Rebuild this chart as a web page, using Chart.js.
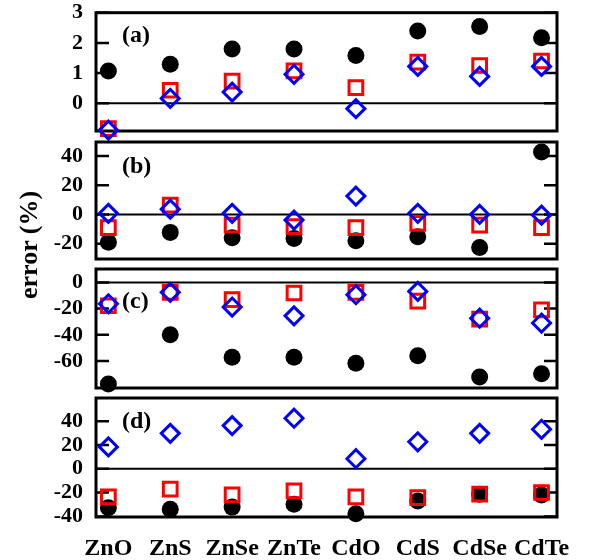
<!DOCTYPE html>
<html lang="en">
<head>
    <meta charset="UTF-8">
    <title>error (%) panels</title>
    <!-- Chart.js from CDN -->
    <script src="https://cdn.jsdelivr.net/npm/chart.js@4.4.0/dist/chart.umd.min.js"></script>
    <style>
        body { margin: 0; background: #fff; }
        #wrap { position: relative; width: 601px; height: 560px; }
        #wrap canvas { position: absolute; left: 0; top: 0; }
        #ylab {
            position: absolute; left: 29px; top: 245px;
            transform: translate(-50%, -50%) rotate(-90deg);
            font: bold 26px "Liberation Serif", serif;
            white-space: nowrap;
        }
    </style>
</head>
<body>
<div id="wrap">
    <canvas id="pa" width="601" height="560"></canvas>
    <canvas id="pb" width="601" height="560"></canvas>
    <canvas id="pc" width="601" height="560"></canvas>
    <canvas id="pd" width="601" height="560"></canvas>
    <div id="ylab">error (%)</div>
</div>

<script>
    // categories (x axis)
    const materials = ['ZnO', 'ZnS', 'ZnSe', 'ZnTe', 'CdO', 'CdS', 'CdSe', 'CdTe'];

    // panel (a)
    const aBlack = [1.07, 1.29, 1.80, 1.80, 1.58, 2.39, 2.54, 2.17];
    const aRed   = [-0.84, 0.43, 0.73, 1.07, 0.52, 1.36, 1.25, 1.40];
    const aBlue  = [-0.89, 0.16, 0.37, 0.96, -0.18, 1.22, 0.89, 1.22];
    const aTicks = [3, 2, 1, 0];

    // panel (b)
    const bBlack = [-19, -12.3, -16, -16.4, -18, -15.3, -22.7, 42.7];
    const bRed   = [-9.1, 6.3, -7.3, -8.4, -9.1, -6.1, -7.3, -9.1];
    const bBlue  = [0.7, 3.6, 0.7, -3.9, 12.5, 0.7, 0, -0.5];
    const bTicks = [40, 20, 0, -20];

    // panel (c)
    const cBlack = [-77.4, -40, -57, -57, -61.6, -56, -72.2, -69.6];
    const cRed   = [-17.8, -7.6, -13.2, -8.1, -7.6, -14.3, -28, -20.9];
    const cBlue  = [-16.3, -7.6, -18.8, -25.5, -9.4, -6.9, -27.3, -31];
    const cTicks = [0, -20, -40, -60];

    // panel (d)
    const dBlack = [-32.7, -34, -32.2, -29.8, -37.8, -27, -21.3, -22];
    const dRed   = [-23.6, -17, -21.9, -18.5, -23.6, -24.2, -21.3, -19.9];
    const dBlue  = [18.4, 29.8, 36.3, 42.5, 8.5, 22.7, 29.8, 33.2];
    const dTicks = [40, 20, 0, -20, -40];

    const tags = ['(a)', '(b)', '(c)', '(d)'];

    const serif = '"Liberation Serif", "Times New Roman", serif';

    // frame, inward ticks on both sides, zero line and panel tag
    const framePlugin = {
        id: 'frame',
        beforeDatasetsDraw(chart, args, opts) {
            const ctx = chart.ctx;
            const a = chart.chartArea;
            const y = chart.scales.y;
            ctx.save();
            ctx.strokeStyle = '#000';
            ctx.lineWidth = 2.5;
            y.ticks.forEach(t => {
                const py = y.getPixelForValue(t.value);
                ctx.beginPath();
                ctx.moveTo(a.left, py); ctx.lineTo(a.left + 13, py);
                ctx.moveTo(a.right, py); ctx.lineTo(a.right - 13, py);
                ctx.stroke();
            });
            const z = y.getPixelForValue(0);
            ctx.lineWidth = 2;
            ctx.beginPath();
            ctx.moveTo(a.left, z); ctx.lineTo(a.right, z);
            ctx.stroke();
            ctx.lineWidth = 3;
            ctx.strokeRect(a.left, a.top, a.right - a.left, a.bottom - a.top);
            ctx.fillStyle = '#000';
            ctx.font = 'bold 24px ' + serif;
            ctx.textBaseline = 'middle';
            ctx.fillText(opts.tag, a.left + 26, a.top + opts.tagDy);
            ctx.restore();
        }
    };

    function points(vals) {
        return vals.map((v, i) => ({x: i, y: v}));
    }

    function makePanel(id, tag, vals, ticks, box) {
        const [black, red, blue] = vals;
        const last = !!box.showX;
        new Chart(document.getElementById(id), {
            type: 'scatter',
            data: {
                datasets: [
                    {data: points(blue), pointStyle: 'rectRot', pointRadius: 9,
                     borderColor: '#0000ff', backgroundColor: 'rgba(0,0,0,0)', borderWidth: 3, order: 0, clip: false},
                    {data: points(red), pointStyle: 'rect', pointRadius: 9.7,
                     borderColor: '#ff0000', backgroundColor: 'rgba(0,0,0,0)', borderWidth: 3, order: 1, clip: false},
                    {data: points(black), pointStyle: 'circle', pointRadius: 8.5,
                     borderColor: '#000', backgroundColor: '#000', borderWidth: 0, order: 2, clip: false}
                ]
            },
            options: {
                responsive: false,
                animation: false,
                events: [],
                layout: {padding: {left: 0, right: 44, top: box.top, bottom: box.bottom}},
                plugins: {
                    legend: {display: false},
                    tooltip: {enabled: false},
                    frame: {tag: tag, tagDy: box.tagDy}
                },
                scales: {
                    x: {
                        type: 'linear',
                        display: last,
                        min: -0.2, max: 7.25,
                        afterBuildTicks: s => { s.ticks = materials.map((m, i) => ({value: i})); },
                        afterFit: s => { s.height = last ? 40 : 0; s.paddingLeft = 0; s.paddingRight = 0; },
                        grid: {display: false, drawTicks: false},
                        border: {display: false},
                        ticks: {
                            padding: 17,
                            color: '#000',
                            maxRotation: 0,
                            autoSkip: false,
                            font: {family: serif, size: 24, weight: 'bold'},
                            callback: v => materials[v]
                        }
                    },
                    y: {
                        min: box.min, max: box.max,
                        afterBuildTicks: s => { s.ticks = ticks.map(v => ({value: v})); },
                        afterFit: s => { s.width = 96; s.paddingTop = 0; s.paddingBottom = 0; },
                        grid: {display: false, drawTicks: false},
                        border: {display: false},
                        ticks: {
                            padding: 13,
                            color: '#000',
                            autoSkip: false,
                            font: {family: serif, size: 22, weight: 'bold'},
                            callback: v => String(v)
                        }
                    }
                }
            },
            plugins: [framePlugin]
        });
    }

    // draw the four stacked panels
    makePanel('pa', tags[0], [aBlack, aRed, aBlue], aTicks, {top: 12, bottom: 429, min: -0.92, max: 3, tagDy: 23});
    makePanel('pb', tags[1], [bBlack, bRed, bBlue], bTicks, {top: 142, bottom: 301, min: -30.5, max: 49.5, tagDy: 25});
    makePanel('pc', tags[2], [cBlack, cRed, cBlue], cTicks, {top: 269, bottom: 172, min: -80.5, max: 10.2, tagDy: 33});
    makePanel('pd', tags[3], [dBlack, dRed, dBlue], dTicks, {top: 398, bottom: 3, min: -40.5, max: 59.5, tagDy: 24, showX: true});
</script>
</body>
</html>
